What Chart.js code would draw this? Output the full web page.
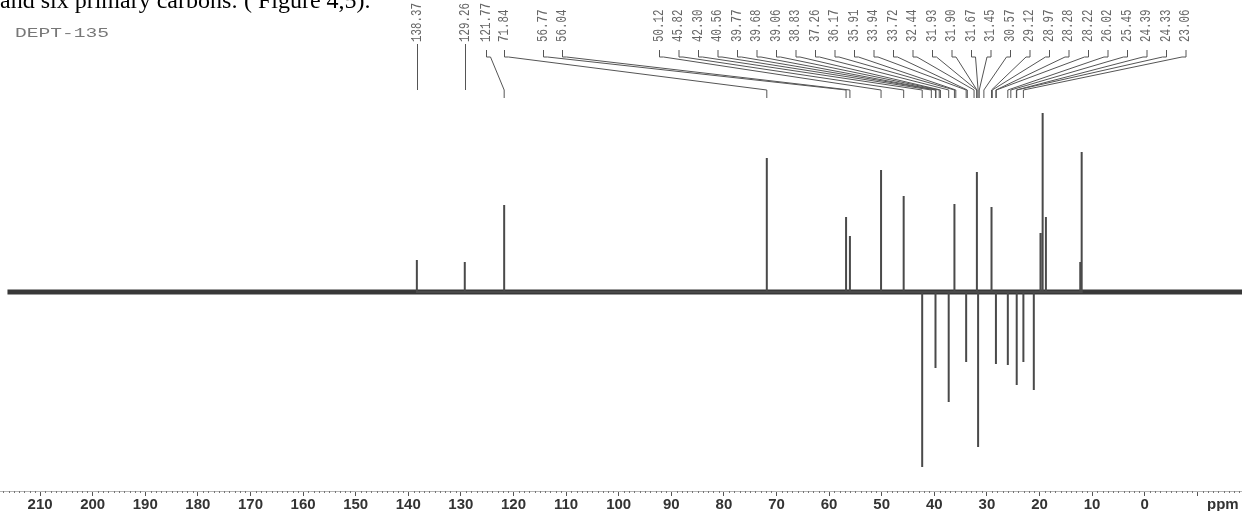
<!DOCTYPE html>
<html><head><meta charset="utf-8">
<script src="https://cdn.jsdelivr.net/npm/chart.js@4/dist/chart.umd.min.js"></script>
<style>html,body{margin:0;padding:0;background:#fff;}canvas{display:block;}</style>
</head><body>
<canvas id="c" width="1242" height="511"></canvas>
<script>
// ---- data ----
const spectralWindow = [216.2, -18.5];           // ppm range covered by the recorded baseline
const peakPpm = [138.37, 129.26, 121.77, 71.84, 56.77, 56.04, 50.12, 45.82, 42.30, 39.77, 37.26, 36.17,
                 33.94, 31.90, 31.67, 29.12, 28.28, 26.02, 24.33, 23.06, 21.08, 19.81, 19.40, 18.78, 12.25, 11.98];
const peakIntensity = [32, 30, 87, 134, 75, 56, 122, 96, -175, -76, -110, 88,
                       -70, 120, -155, 85, -72, -73, -93, -70, -98, 59, 179, 75, 30, 140];
const labelValues = ["138.37","129.26","121.77","71.84","56.77","56.04","50.12","45.82","42.30","40.56",
                     "39.77","39.68","39.06","38.83","37.26","36.17","35.91","33.94","33.72","32.44",
                     "31.93","31.90","31.67","31.45","30.57","29.12","28.97","28.28","28.22","26.02",
                     "25.45","24.39","24.33","23.06"];
const tickValues = [210,200,190,180,170,160,150,140,130,120,110,100,90,80,70,60,50,40,30,20,10,0,-10];

// ---- build datasets from data ----
const spectrum = [];
peakPpm.forEach((p, i) => {
  spectrum.push({x: p, y: 0}, {x: p, y: peakIntensity[i]}, {x: p, y: 0});
});
const baseline = spectralWindow.map(p => ({x: p, y: 0}));

// ---- layout for annotations (pixels) ----
const labelLayout = { firstX: [417, 465, 486, 504, 543, 562], groupStart: 659, groupStep: 19.5,
                      textBottom: 42, bracketTop: 50, bracketBottom: 57, diagEnd: 90, stubEnd: 98 };

const annotate = {
  id: 'annotate',
  beforeDraw(chart) {
    const c = chart.ctx;
    c.save(); c.fillStyle = '#fff'; c.fillRect(0, 0, chart.width, chart.height); c.restore();
  },
  afterDraw(chart) {
    const c = chart.ctx;
    const xs = chart.scales.x;
    const area = chart.chartArea;
    c.save();
    // heading fragment
    c.fillStyle = '#000';
    c.font = '24px "Liberation Serif"';
    c.textBaseline = 'alphabetic';
    c.textAlign = 'left';
    c.fillText('and six primary carbons: ( Figure 4,5).', 0, 8);
    // experiment name
    c.save();
    c.translate(15, 37);
    c.scale(1.63, 1);
    c.fillStyle = '#777';
    c.font = '12px "Liberation Mono"';
    c.fillText('DEPT-135', 0, 0);
    c.restore();

    // minor ticks every 1 ppm
    c.strokeStyle = '#777';
    c.lineWidth = 1;
    c.beginPath();
    for (let v = Math.ceil(xs.min); v <= Math.floor(xs.max); v++) {
      if (v % 10 === 0) continue;
      const x = Math.round(xs.getPixelForValue(v)) + 0.5;
      c.moveTo(x, area.bottom); c.lineTo(x, area.bottom + 2);
    }
    c.stroke();

    // ppm unit label
    c.fillStyle = '#333';
    c.font = 'bold 15px "Liberation Sans"';
    c.textBaseline = 'middle';
    c.fillText('ppm', 1207, 505);

    // peak labels and connectors
    const L = labelLayout;
    c.strokeStyle = '#555';
    c.lineWidth = 1;
    labelValues.forEach((s, i) => {
      const lx = i < L.firstX.length ? L.firstX[i] : L.groupStart + (i - L.firstX.length) * L.groupStep;
      const px = xs.getPixelForValue(parseFloat(s));
      c.save();
      c.translate(lx, L.textBottom);
      c.rotate(-Math.PI / 2);
      c.scale(0.72, 1);
      c.fillStyle = '#666';
      c.font = '15px "Liberation Mono"';
      c.textAlign = 'left';
      c.textBaseline = 'middle';
      c.fillText(s, 0, 0);
      c.restore();
      c.beginPath();
      if (Math.abs(px - lx) < 3) {
        c.moveTo(lx + 0.5, L.textBottom + 2);
        c.lineTo(lx + 0.5, L.diagEnd);
      } else {
        const dir = px > lx ? 1 : -1;
        c.moveTo(lx + 0.5, L.bracketTop);
        c.lineTo(lx + 0.5, L.bracketBottom);
        c.lineTo(lx + 0.5 + dir * 4, L.bracketBottom);
        c.lineTo(px, L.diagEnd);
        c.lineTo(px, L.stubEnd);
      }
      c.stroke();
    });
    c.restore();
  }
};

new Chart(document.getElementById('c'), {
  type: 'scatter',
  data: {
    datasets: [
      { data: spectrum, showLine: true, borderColor: '#4a4a4a', borderWidth: 2, pointRadius: 0, tension: 0, order: 1 },
      { data: baseline, showLine: true, borderColor: '#383838', borderWidth: 5, pointRadius: 0, order: 2 }
    ]
  },
  options: {
    responsive: false,
    animation: false,
    devicePixelRatio: 1,
    layout: { padding: 0 },
    plugins: { legend: { display: false }, tooltip: { enabled: false } },
    scales: {
      x: {
        type: 'linear', reverse: true, min: -18.5, max: 217.62,
        afterBuildTicks: s => { s.ticks = tickValues.map(v => ({ value: v })); },
        afterFit: s => { s.height = 20; },
        grid: { display: true, drawOnChartArea: false, drawTicks: true, tickLength: 5, tickColor: '#555', tickWidth: 1 },
        border: { display: true, color: '#b5b5b5', width: 1 },
        ticks: {
          autoSkip: false, maxRotation: 0, minRotation: 0, padding: 0, includeBounds: false,
          color: '#333', font: { family: 'Liberation Sans', weight: 'bold', size: 15 },
          callback: v => (v < 0 ? '' : String(v))
        }
      },
      y: { display: false, min: -199, max: 292 }
    }
  },
  plugins: [annotate]
});
</script>
</body></html>
